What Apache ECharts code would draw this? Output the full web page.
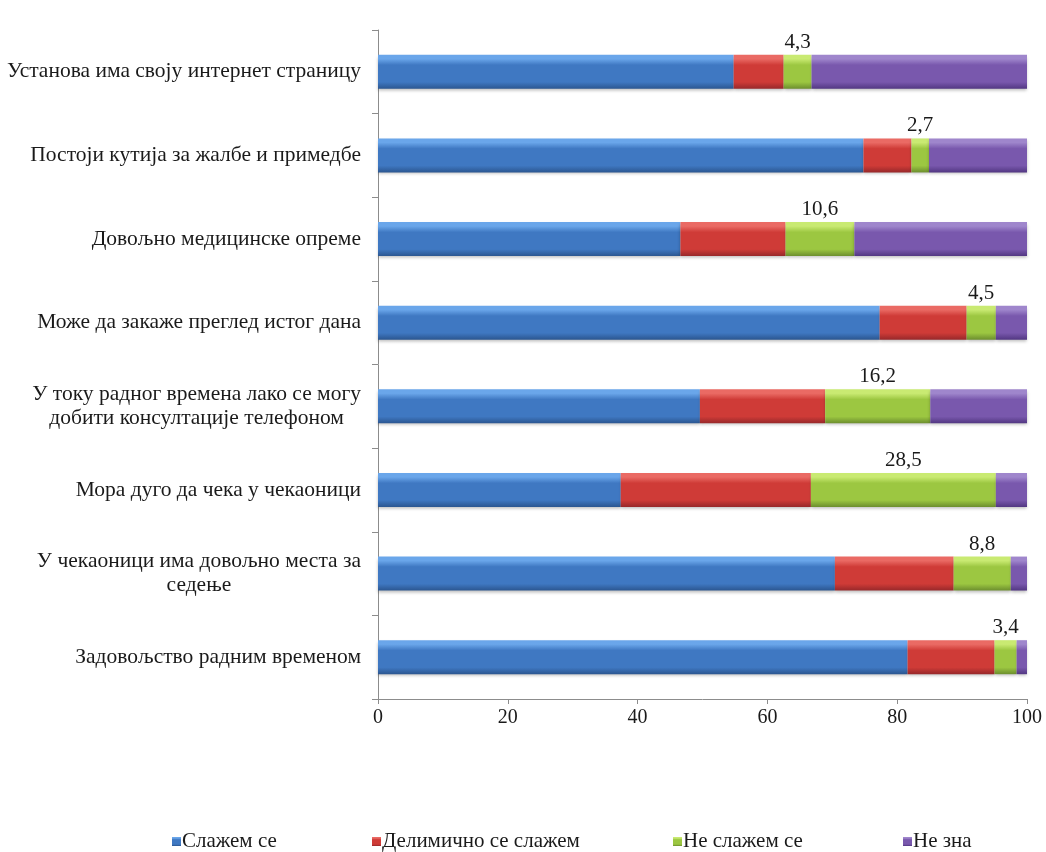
<!DOCTYPE html>
<html>
<head>
<meta charset="utf-8">
<script src="https://cdn.jsdelivr.net/npm/echarts@6/dist/echarts.min.js"></script>
<style>
  html, body { margin: 0; padding: 0; background: #fff; }
  #chart { width: 1046px; height: 852px; }
</style>
</head>
<body>
<div id="chart"></div>
<script>
// Survey statements (top to bottom)
const categories = [
  'Установа има своју интернет страницу',
  'Постоји кутија за жалбе и примедбе',
  'Довољно медицинске опреме',
  'Може да закаже преглед истог дана',
  'У току радног времена лако се могу\nдобити консултације телефоном',
  'Мора дуго да чека у чекаоници',
  'У чекаоници има довољно места за\nседење',
  'Задовољство радним временом'
];

const seriesNames = ['Слажем се', 'Делимично се слажем', 'Не слажем се', 'Не зна'];

// Percentages per answer
const agree        = [54.8, 74.8, 46.6, 77.3, 49.6, 37.4, 70.4, 81.6];
const partlyAgree  = [7.7, 7.4, 16.2, 13.4, 19.3, 29.3, 18.3, 13.4];
const disagree     = [4.3, 2.7, 10.6, 4.5, 16.2, 28.5, 8.8, 3.4];
const dontKnow     = [33.2, 15.1, 26.6, 4.8, 14.9, 4.8, 2.5, 1.6];

const xTicks = { min: 0, max: 100, interval: 20 };

const serif = '"Liberation Serif", "DejaVu Serif", serif';

function bevel(light, main, dark) {
  return new echarts.graphic.LinearGradient(0, 0, 0, 1, [
    { offset: 0, color: light },
    { offset: 0.12, color: light },
    { offset: 0.3, color: main },
    { offset: 0.8, color: main },
    { offset: 1, color: dark }
  ]);
}

const fills = [
  bevel('#6aa6ea', '#3f78c2', '#2b5690'),
  bevel('#ea6a64', '#cf3b37', '#97282a'),
  bevel('#c9ea72', '#9cc741', '#6c8e2e'),
  bevel('#9f86cc', '#7958ad', '#523782')
];

const values = [agree, partlyAgree, disagree, dontKnow];

const series = values.map((arr, i) => ({
  name: seriesNames[i],
  type: 'bar',
  stack: 'total',
  barWidth: 34,
  data: arr,
  itemStyle: {
    color: fills[i],
    shadowColor: 'rgba(0,0,0,0.25)',
    shadowBlur: 3,
    shadowOffsetY: 2
  },
  label: i === 2 ? {
    show: true,
    position: 'top',
    distance: 2,
    color: '#1a1a1a',
    fontFamily: serif,
    fontSize: 21,
    formatter: p => String(p.value).replace('.', ',')
  } : { show: false },
  emphasis: { disabled: true }
}));

const legendX = [167, 367, 668, 898];
const legends = seriesNames.map((n, i) => ({
  data: [n],
  left: legendX[i],
  top: 826,
  itemWidth: 9,
  itemHeight: 9,
  icon: 'rect',
  textStyle: { fontFamily: serif, fontSize: 21, color: '#1a1a1a', padding: [0, 0, 0, -4] },
  selectedMode: false
}));

const chart = echarts.init(document.getElementById('chart'));
chart.setOption({
  animation: false,
  backgroundColor: '#fff',
  grid: { left: 378, right: 19, top: 30, bottom: 153, containLabel: false },
  legend: legends,
  xAxis: {
    type: 'value',
    min: xTicks.min,
    max: xTicks.max,
    interval: xTicks.interval,
    axisLine: { show: true, lineStyle: { color: '#8c8c8c', width: 1 } },
    axisTick: { show: true, length: 5, lineStyle: { color: '#8c8c8c' } },
    splitLine: { show: false },
    axisLabel: { fontFamily: serif, fontSize: 20, color: '#1a1a1a', margin: 9 }
  },
  yAxis: {
    type: 'category',
    data: categories,
    inverse: true,
    axisLine: { show: true, lineStyle: { color: '#8c8c8c', width: 1 } },
    axisTick: { show: true, length: 6, alignWithLabel: false, lineStyle: { color: '#8c8c8c' } },
    axisLabel: {
      margin: 17,
      align: 'right',
      fontFamily: serif,
      fontSize: 21.5,
      color: '#1a1a1a',
      formatter: v => v.split('\n').map(l => '{c|' + l + '}').join('\n'),
      rich: {
        c: { align: 'center', fontFamily: serif, fontSize: 21.5, color: '#1a1a1a', lineHeight: 24 }
      }
    }
  },
  series: series
});
</script>
</body>
</html>
